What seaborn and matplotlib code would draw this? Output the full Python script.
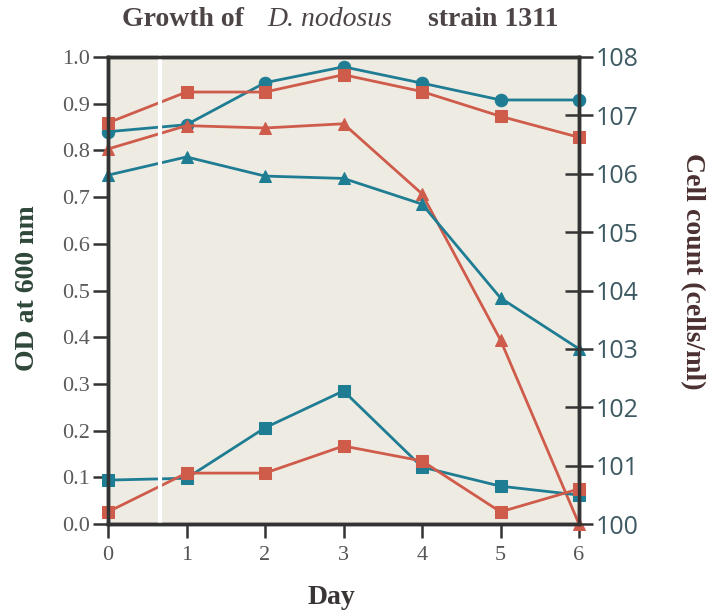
import matplotlib
matplotlib.use("Agg")
import matplotlib.pyplot as plt
import seaborn as sns
import pandas as pd
import numpy as np

days = [0, 1, 2, 3, 4, 5, 6]
teal_circles = [0.84, 0.855, 0.945, 0.979, 0.944, 0.908, 0.908]
red_squares_top = [0.859, 0.925, 0.925, 0.962, 0.926, 0.873, 0.828]
red_triangles = [0.803, 0.853, 0.848, 0.857, 0.707, 0.394, 0.0]
teal_triangles = [0.747, 0.786, 0.745, 0.740, 0.685, 0.484, 0.375]
teal_squares_low = [0.094, 0.098, 0.206, 0.285, 0.122, 0.081, 0.062]
red_squares_low = [0.026, 0.109, 0.109, 0.167, 0.135, 0.026, 0.075]

od_ticks = [0.0, 0.1, 0.2, 0.3, 0.4, 0.5, 0.6, 0.7, 0.8, 0.9, 1.0]
od_labels = ["0.0", "0.1", "0.2", "0.3", "0.4", "0.5", "0.6", "0.7", "0.8", "0.9", "1.0"]
count_ticks = [1e0, 1e1, 1e2, 1e3, 1e4, 1e5, 1e6, 1e7, 1e8]
count_labels = ["100", "101", "102", "103", "104", "105", "106", "107", "108"]

TEAL = "#1f7d93"
RED = "#cf5b4b"

series = [
    ("teal_circles", teal_circles, TEAL, "o", 9),
    ("red_squares_top", red_squares_top, RED, "s", 8),
    ("red_triangles", red_triangles, RED, "^", 8),
    ("teal_triangles", teal_triangles, TEAL, "^", 8),
    ("teal_squares_low", teal_squares_low, TEAL, "s", 8),
    ("red_squares_low", red_squares_low, RED, "s", 8),
]

sns.set_style("white")
plt.rcParams["font.family"] = ["Liberation Serif", "DejaVu Serif"]

fig = plt.figure(figsize=(7.06, 6.15), dpi=100)
ax = fig.add_axes([108/706, 1-524/615, (579-108)/706, (524-57)/615])
ax.set_facecolor("#eeebe3")

for name, vals, col, mk, ms in series:
    df = pd.DataFrame({"Day": days, "OD": vals})
    sns.lineplot(data=df, x="Day", y="OD", ax=ax, color=col, marker=mk,
                 markersize=ms, markeredgecolor=col, linewidth=2.0,
                 clip_on=False, zorder=3)

ax.axvline(0.66, color="white", lw=3, zorder=10, clip_on=False)

ax.set_xlim(0, 6)
ax.set_ylim(0, 1.0)
ax.set_xticks(days)
ax.set_xticklabels([str(d) for d in days], fontsize=16, color="#555555")
ax.set_yticks(od_ticks)
ax.set_yticklabels(od_labels, fontsize=16, color="#5a5a5a")
ax.tick_params(axis="y", direction="out", length=11, width=1.8, color="#333333",
               left=True, pad=2)
ax.tick_params(axis="x", direction="out", length=10, width=1.8, color="#333333",
               bottom=True, pad=6)
for s in ax.spines.values():
    s.set_color("#333333")
    s.set_linewidth(2.5)
    s.set_visible(True)

ax.set_xlabel("Day", fontsize=20, fontweight="bold", color="#3a3535", va="center", ha="center")
ax.xaxis.set_label_coords((331-108)/471, (524-597)/467)
ax.set_ylabel("OD at 600 nm", fontsize=20, fontweight="bold", color="#2e4738", va="center", ha="center")
ax.yaxis.set_label_coords((28-108)/471, 1-(288-57)/467)

ax2 = ax.twinx()
ax2.set_yscale("log")
ax2.set_ylim(1e0, 1e8)
ax2.set_yticks(count_ticks)
ax2.set_yticklabels(count_labels, fontsize=18, color="#3d5a62",
                    family=["Open Sans", "DejaVu Sans"])
ax2.yaxis.set_minor_locator(matplotlib.ticker.NullLocator())
ax2.tick_params(axis="y", direction="inout", length=20, width=1.8, color="#333333", pad=2)
for s in ax2.spines.values():
    s.set_color("#333333")
    s.set_linewidth(2.5)
ax2.set_ylabel("Cell count (cells/ml)", fontsize=20, fontweight="bold",
               color="#4a3030", rotation=270, va="center", ha="center")
ax2.yaxis.set_label_coords((692-108)/471, 1-(271-57)/467)

tc = "#4d4545"
ty = 1 - 20/615
fig.text(122/706, ty, "Growth of", fontsize=20, fontweight="bold", color=tc, va="center", ha="left")
fig.text(267/706, ty, "D. nodosus", fontsize=20, fontstyle="italic", color=tc, va="center", ha="left")
fig.text(428/706, ty, "strain 1311", fontsize=20, fontweight="bold", color=tc, va="center", ha="left")

fig.savefig("out.png", dpi=100, facecolor="white")
